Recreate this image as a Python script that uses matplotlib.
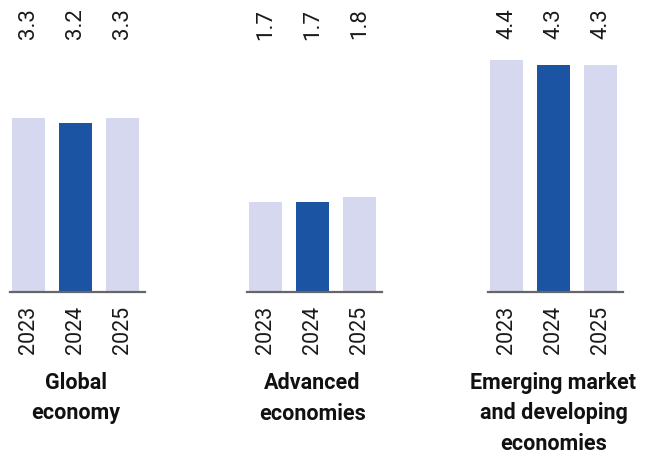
import matplotlib.pyplot as plt
from matplotlib.transforms import blended_transform_factory

plt.rcParams['font.family'] = ['Roboto', 'DejaVu Sans']

years = ["2023", "2024", "2025"]
groups = ["Global\neconomy", "Advanced\neconomies", "Emerging market\nand developing\neconomies"]
global_vals = [3.3, 3.2, 3.3]
advanced_vals = [1.7, 1.7, 1.8]
emde_vals = [4.4, 4.3, 4.3]
all_vals = [global_vals, advanced_vals, emde_vals]

light = "#d6d8ef"
dark = "#1a54a2"
colors = [light, dark, light]

W, H = 650, 458
fig = plt.figure(figsize=(W / 100, H / 100), dpi=100)

px_per_unit = 52.7
base_y = 292          # baseline, pixels from top
ax_w = 135
lefts = [10, 247, 488]
ax_h = 5.0 * px_per_unit

for left, vals, name in zip(lefts, all_vals, groups):
    ax = fig.add_axes([left / W, (H - base_y) / H, ax_w / W, ax_h / H])
    x = range(len(vals))
    ax.bar(x, vals, width=0.70, color=colors, zorder=2)
    ax.set_xlim(-18.5 / 47, (ax_w - 18.5) / 47)
    ax.set_ylim(0, 5.0)
    for s in ["top", "right", "left"]:
        ax.spines[s].set_visible(False)
    ax.spines["bottom"].set_color("#666666")
    ax.spines["bottom"].set_linewidth(1.6)
    ax.set_yticks([])
    ax.set_xticks(list(x))
    ax.set_xticklabels(years, rotation=90, fontsize=15.5, color="#1a1a1a")
    ax.tick_params(axis="x", length=0, pad=10)

    trans = blended_transform_factory(ax.transData, fig.transFigure)
    for xi, v in zip(x, vals):
        ax.text(xi, 1 - 24 / H, f"{v:.1f}", rotation=90, ha="center", va="center",
                fontsize=16, color="#1a1a1a", transform=trans)

    cx = (left + ax_w / 2 - 2) / W
    fig.text(cx, 1 - 372 / H, name, ha="center", va="top", fontsize=15.5,
             fontweight="bold", linespacing=1.5, color="#111111")

fig.savefig("out.png", dpi=100)
